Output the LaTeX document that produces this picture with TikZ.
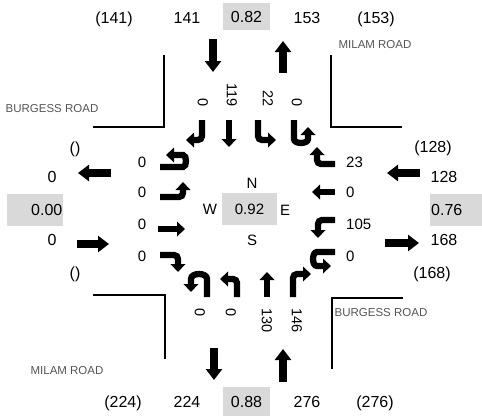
\documentclass[tikz,border=0pt]{standalone}
\usepackage{fontspec}
\setmainfont{Liberation Sans}
\usetikzlibrary{arrows.meta}
\definecolor{boxgray}{RGB}{217,217,217}
\definecolor{roadgray}{RGB}{85,85,85}
\tikzset{
  outnum/.style={inner sep=0pt, font=\fontsize{16}{18}\selectfont, text height=11.5pt, text depth=0pt},
  innum/.style={inner sep=0pt, font=\fontsize{15}{17}\selectfont, text height=10.7pt, text depth=0pt},
  rotnum/.style={inner sep=0pt, font=\fontsize{14.5}{16}\selectfont, text height=10.4pt, text depth=0pt, rotate=-90},
  roadlbl/.style={inner sep=0pt, font=\fontsize{11.5}{13}\selectfont, text=roadgray, text height=8.2pt, text depth=0pt},
  bigarrow/.style={line width=8.3pt, -{Triangle[width=16pt,length=11pt]}},
  smallarrow/.style={line width=6.3pt, rounded corners=4pt, -{Triangle[width=14.5pt,length=8pt]}},
  curb/.style={line width=2pt},
}
\begin{document}
\begin{tikzpicture}[x=1pt,y=-1pt]
\useasboundingbox (0,0) rectangle (482,416);
% grey v/c boxes
\fill[boxgray] (223,3) rectangle (270,30);
\fill[boxgray] (223,387) rectangle (270,416);
\fill[boxgray] (7,194) rectangle (63,226);
\fill[boxgray] (430,194) rectangle (482,226);
\fill[boxgray] (222,193) rectangle (277,225);
% top row
\node[outnum] (t1) at (114,18) {(141)};
\node[outnum] (t2) at (187,18) {141};
\node[outnum] (t3) at (246.5,17) {0.82};
\node[outnum] (t4) at (307,18) {153};
\node[outnum] (t5) at (376,18) {(153)};
% bottom row
\node[outnum] (b1) at (123,402) {(224)};
\node[outnum] (b2) at (187,402) {224};
\node[outnum] (b3) at (246.5,402) {0.88};
\node[outnum] (b4) at (307,402) {276};
\node[outnum] (b5) at (375,402) {(276)};
% left column
\node[outnum] (l1) at (75,148) {()};
\node[outnum] (l2) at (52,177) {0};
\node[outnum, anchor=east] (l3) at (62.5,210) {0.00};
\node[outnum] (l4) at (52,240) {0};
\node[outnum] (l5) at (75,273) {()};
% right column
\node[outnum] (r1) at (433,147) {(128)};
\node[outnum, anchor=west] (r2) at (430.5,177) {128};
\node[outnum, anchor=west] (r3) at (431,210) {0.76};
\node[outnum, anchor=west] (r4) at (430.5,240) {168};
\node[outnum] (r5) at (432,273) {(168)};
% centre
\node[innum] (cn) at (252,183) {N};
\node[innum] (cw) at (210,209) {W};
\node[innum] (cv) at (249.5,209) {0.92};
\node[innum] (ce) at (285,210) {E};
\node[innum] (cs) at (252,240) {S};
% inner left labels
\node[innum] (wl1) at (142,162) {0};
\node[innum] (wl2) at (142,192) {0};
\node[innum] (wl3) at (142,224) {0};
\node[innum] (wl4) at (142,256) {0};
% inner right labels
\node[innum, anchor=west] (el1) at (346,162) {23};
\node[innum, anchor=west] (el2) at (346,192) {0};
\node[innum, anchor=west] (el3) at (346,224) {105};
\node[innum, anchor=west] (el4) at (346,256) {0};
% top rotated labels
\node[rotnum, anchor=east] (nl1) at (203,107) {0};
\node[rotnum, anchor=east] (nl2) at (232,107) {119};
\node[rotnum, anchor=east] (nl3) at (268,107) {22};
\node[rotnum, anchor=east] (nl4) at (297,107) {0};
% bottom rotated labels
\node[rotnum, anchor=west] (sl1) at (200,308.5) {0};
\node[rotnum, anchor=west] (sl2) at (231,308.5) {0};
\node[rotnum, anchor=west] (sl3) at (267,308.5) {130};
\node[rotnum, anchor=west] (sl4) at (297,308.5) {146};
% road names
\node[roadlbl] (rd1) at (375,44) {MILAM ROAD};
\node[roadlbl] (rd2) at (52,108) {BURGESS ROAD};
\node[roadlbl] (rd3) at (381,312) {BURGESS ROAD};
\node[roadlbl] (rd4) at (67,370) {MILAM ROAD};
% curbs
\draw[curb] (93,127) -- (164,127) -- (164,55);
\draw[curb] (402,127) -- (331,127) -- (331,55);
\draw[curb] (93,295) -- (165,295) -- (165,359);
\draw[curb] (403,298) -- (332,298) -- (332,369);
% outer arrows
\draw[bigarrow] (213,39) -- (213,72);
\draw[bigarrow] (283,73) -- (283,41);
\draw[bigarrow] (214,348) -- (214,380);
\draw[bigarrow] (283,382) -- (283,349);
\draw[bigarrow] (111,173) -- (78,173);
\draw[bigarrow] (77,244) -- (109,244);
\draw[bigarrow] (420,173) -- (387,173);
\draw[bigarrow] (385,243) -- (419,243);
% north approach
\draw[smallarrow] (202,120) -- (202,140) -- (186,140);
\draw[smallarrow] (229,120) -- (229,147);
\draw[smallarrow] (258,120) -- (258,140) -- (276,140);
\draw[smallarrow] (294,120) -- (294,135) .. controls (294,144.3) and (308,144.3) .. (308,135) -- (308,127);
% east approach
\draw[smallarrow] (335,164) -- (317,164) -- (317,147);
\draw[smallarrow] (335,192) -- (312,192);
\draw[smallarrow] (335,220) -- (318,220) -- (318,238);
\draw[smallarrow] (335,252) -- (321,252) .. controls (311.7,252) and (311.7,266) .. (321,266) -- (331,266);
% south approach
\draw[smallarrow] (207,297) -- (207,283) .. controls (207,272.3) and (191,272.3) .. (191,283) -- (191,292);
\draw[smallarrow] (237,297) -- (237,279) -- (220,279);
\draw[smallarrow] (267,297) -- (267,272);
\draw[smallarrow] (293,297) -- (293,274) -- (311,274);
% west approach
\draw[smallarrow] (160,167) -- (179,167) .. controls (187,167) and (187,155) .. (179,155) -- (166,155);
\draw[smallarrow] (160,197) -- (183,197) -- (183,182);
\draw[smallarrow] (158,229) -- (185,229);
\draw[smallarrow] (160,255) -- (178,255) -- (178,272);
\end{tikzpicture}
\end{document}
